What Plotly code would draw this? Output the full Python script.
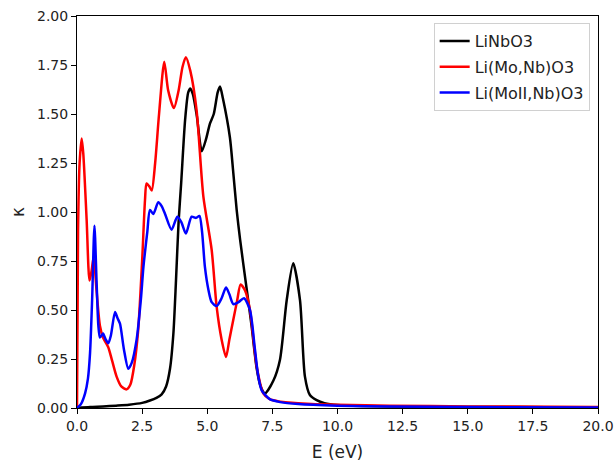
import plotly.graph_objects as go

# LiNbO3
e_black = [0, 0.5, 1, 1.5, 2, 2.5, 2.8, 3.05, 3.25, 3.42, 3.57, 3.7, 3.8, 3.9, 4.0, 4.15, 4.27, 4.35, 4.45, 4.6, 4.79,
           4.95, 5.1, 5.25, 5.4, 5.49, 5.6, 5.87, 6.0, 6.13, 6.26, 6.5, 6.7, 6.9, 7.05, 7.22, 7.54, 7.79,
           8.05, 8.3, 8.56, 8.75, 8.94, 9.2, 9.5, 10, 11, 12, 14, 16, 18, 20]
k_black = [0, 0.005, 0.008, 0.012, 0.017, 0.026, 0.038, 0.052, 0.07, 0.11, 0.2, 0.38, 0.65, 0.95, 1.15, 1.47, 1.61,
           1.63, 1.6, 1.49, 1.31, 1.37, 1.45, 1.5, 1.61, 1.64, 1.58, 1.38, 1.2, 1.01, 0.86, 0.62, 0.42, 0.2,
           0.11, 0.075, 0.14, 0.245, 0.55, 0.738, 0.55, 0.16, 0.066, 0.04, 0.025, 0.015, 0.01, 0.008,
           0.006, 0.005, 0.004, 0.003]

# Li(Mo,Nb)O3
e_red = [0, 0.04, 0.1, 0.18, 0.24, 0.37, 0.48, 0.56, 0.64, 0.75, 0.88, 1.0, 1.2, 1.35, 1.52, 1.7, 1.9,
         2.05, 2.2, 2.35, 2.5, 2.61, 2.67, 2.78, 2.87, 3.0, 3.15, 3.35, 3.5, 3.72, 3.9, 4.05, 4.18, 4.35,
         4.59, 4.85, 5.17, 5.36, 5.55, 5.72, 5.85, 6.0, 6.15, 6.28, 6.45, 6.64, 6.9, 7.15, 7.4, 7.7, 8,
         9, 10, 12, 15, 20]
k_red = [0, 0.9, 1.25, 1.375, 1.3, 0.96, 0.65, 0.7, 0.77, 0.6, 0.42, 0.36, 0.31, 0.24, 0.16, 0.11, 0.095,
         0.12, 0.22, 0.4, 0.75, 1.06, 1.146, 1.13, 1.11, 1.25, 1.5, 1.767, 1.62, 1.53, 1.62, 1.74, 1.79,
         1.72, 1.52, 1.08, 0.806, 0.517, 0.35, 0.26, 0.35, 0.45, 0.55, 0.63, 0.6, 0.5, 0.21, 0.075,
         0.045, 0.035, 0.03, 0.02, 0.016, 0.012, 0.008, 0.005]

# Li(MoII,Nb)O3
e_blue = [0, 0.15, 0.31, 0.42, 0.5, 0.58, 0.67, 0.75, 0.82, 0.88, 0.95, 1.0, 1.1, 1.2, 1.3, 1.46, 1.55,
          1.65, 1.8, 1.97, 2.1, 2.29, 2.45, 2.55, 2.7, 2.8, 2.93, 3.12, 3.25, 3.38, 3.63, 3.85, 4.0, 4.18,
          4.4, 4.57, 4.7, 4.8, 4.91, 5.05, 5.17, 5.36, 5.55, 5.72, 5.85, 6.0, 6.2, 6.41, 6.64, 6.83, 6.95,
          7.09, 7.4, 7.8, 8.5, 10, 12, 15, 20]
k_blue = [0, 0.02, 0.075, 0.15, 0.28, 0.55, 0.93, 0.65, 0.42, 0.36, 0.37, 0.38, 0.35, 0.33, 0.37, 0.49,
          0.46, 0.43, 0.3, 0.2, 0.23, 0.35, 0.55, 0.72, 0.9, 1.01, 0.99, 1.05, 1.03, 0.99, 0.91, 0.976,
          0.95, 0.89, 0.976, 0.97, 0.98, 0.9, 0.72, 0.6, 0.54, 0.52, 0.56, 0.615, 0.58, 0.53, 0.54, 0.56,
          0.5, 0.3, 0.17, 0.09, 0.045, 0.03, 0.02, 0.012, 0.008, 0.005, 0.003]

names = ["LiNbO3", "Li(Mo,Nb)O3", "Li(MoII,Nb)O3"]
colors = ["#000000", "#ff0000", "#0000ff"]
x_ticks = [0, 2.5, 5, 7.5, 10, 12.5, 15, 17.5, 20]
y_ticks = [0, 0.25, 0.5, 0.75, 1.0, 1.25, 1.5, 1.75, 2.0]

fig = go.Figure()
for i, (e, k, n, c) in enumerate(zip([e_black, e_red, e_blue], [k_black, k_red, k_blue], names, colors)):
    fig.add_trace(go.Scatter(x=e, y=k, mode="lines", name=n, legendgroup=f"g{i}",
                             line=dict(color=c, width=2.5, shape="spline", smoothing=0.7)))

axis_common = dict(showgrid=False, zeroline=False, showline=True, linecolor="black", linewidth=1,
                   mirror=True, ticks="outside", ticklen=5, tickcolor="black", automargin=False,
                   tickfont=dict(size=14, color="#222"))
fig.update_layout(
    width=616, height=462,
    margin=dict(l=77, r=18, t=16, b=54, autoexpand=False),
    plot_bgcolor="white", paper_bgcolor="white",
    font=dict(family="DejaVu Sans", size=14, color="#222"),
    xaxis=dict(range=[0, 20], tickvals=x_ticks, tickformat=".1f",
               title=dict(text="E (eV)", standoff=13), **axis_common),
    yaxis=dict(range=[0, 2], tickvals=y_ticks, tickformat=".2f",
               title=dict(text="κ", standoff=8), **axis_common),
    legend=dict(x=0.984, y=0.982, xanchor="right", yanchor="top", bgcolor="white",
                bordercolor="#d0d0d0", borderwidth=1, font=dict(size=16), tracegroupgap=2),
    showlegend=True,
)
fig.write_html("out.html")
